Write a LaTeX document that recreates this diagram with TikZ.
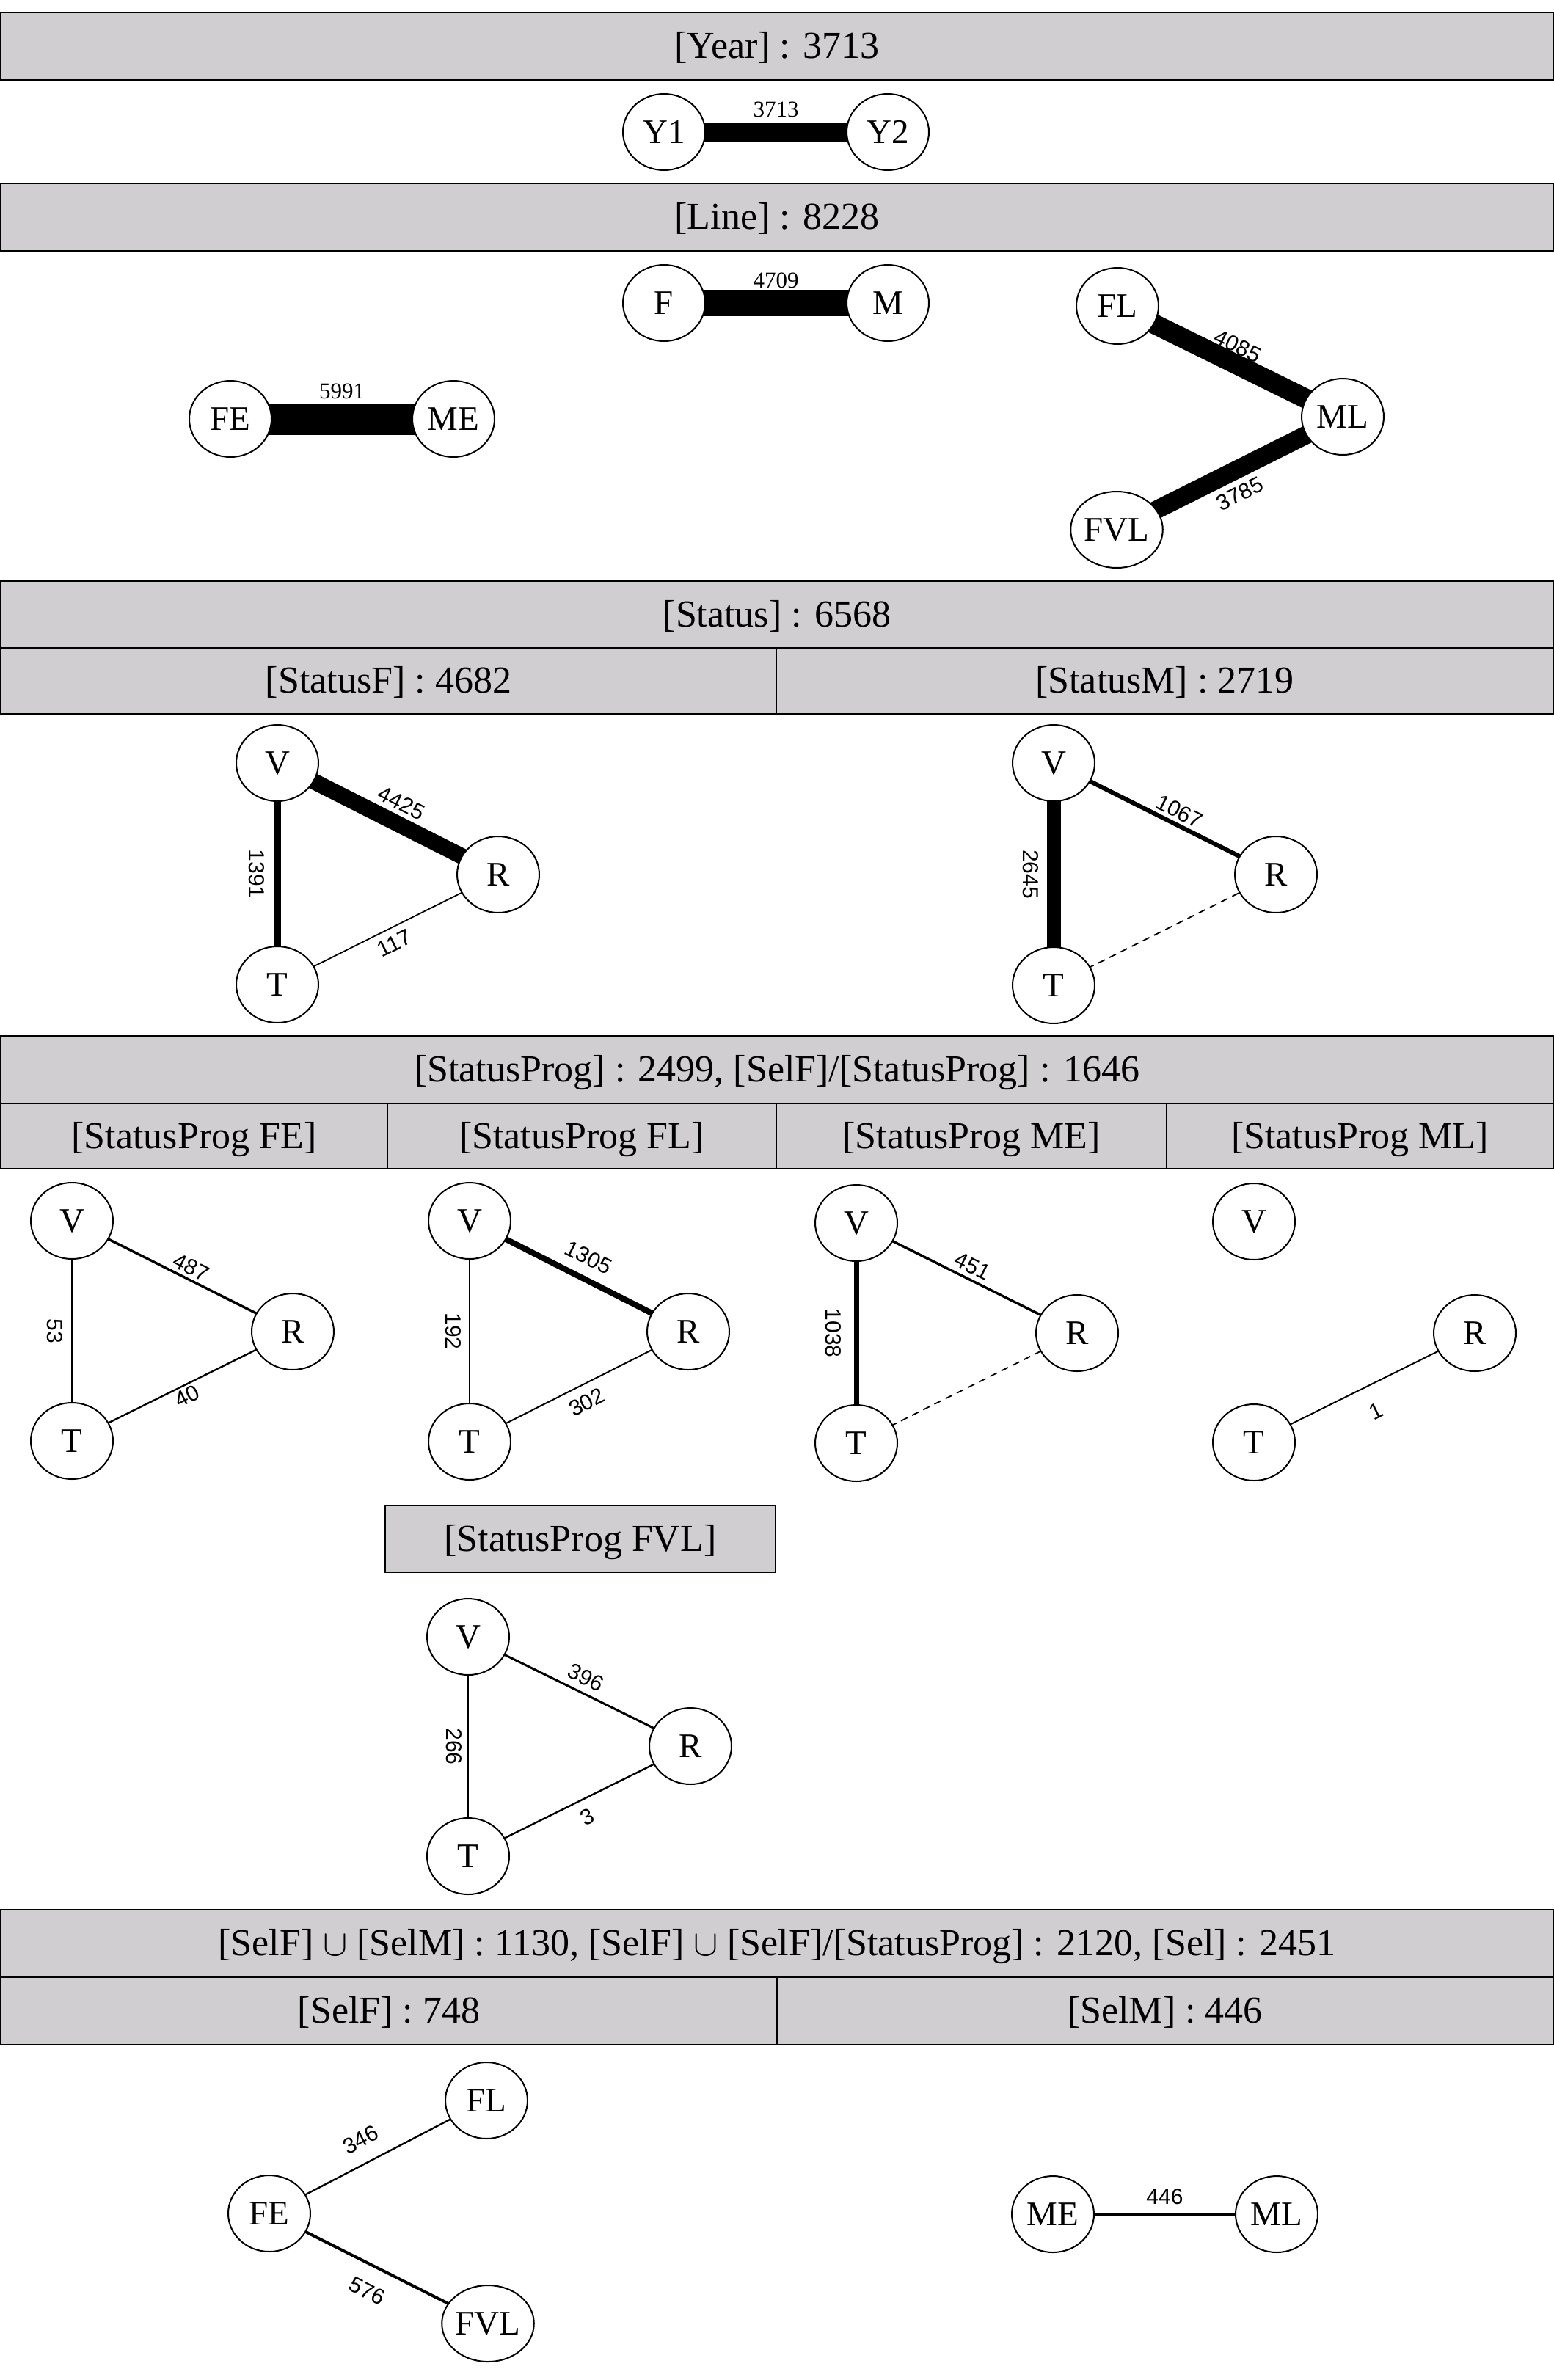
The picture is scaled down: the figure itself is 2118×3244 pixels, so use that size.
\documentclass[tikz,border=0pt]{standalone}
\usepackage{fontspec}
\setmainfont{Liberation Serif}
\newfontfamily\labsans{Liberation Sans}
\usetikzlibrary{shapes.geometric}
\definecolor{hdrgray}{RGB}{208,206,208}
\pgfdeclarelayer{edges}
\pgfsetlayers{edges,main}

\begin{document}
\begin{tikzpicture}[x=0.5pt, y=-0.5pt,
  hdr/.style={draw=black, line width=1.2pt, fill=hdrgray, inner sep=0pt,
    text height=21pt, text depth=4.5pt, font=\fontsize{26}{31}\selectfont},
  vtx/.style={ellipse, draw, line width=1pt, fill=white, inner sep=0pt,
    minimum width=56pt, minimum height=52pt, font=\fontsize{23.5}{28}\selectfont},
  lab/.style={font=\labsans\fontsize{15}{18}\selectfont, inner sep=0pt, outer sep=0pt},
  labs/.style={font=\fontsize{15.5}{18}\selectfont, inner sep=0pt, outer sep=0pt},
  wt/.style={line width=#1pt},
  dsh/.style={line width=0.9pt, dash pattern=on 5pt off 3.5pt},
]
\useasboundingbox (0,0) rectangle (2118,3244);

% ---------- header bars ----------
\node[hdr, minimum width=1058pt, minimum height=46pt] (hYear) at (1059,63) {[Year] : 3713};
\node[hdr, minimum width=1058pt, minimum height=46pt] (hLine) at (1059,296) {[Line] : 8228};
\node[hdr, minimum width=1058pt, minimum height=45.5pt] (hStatus) at (1059,837.5) {[Status] : 6568};
\node[hdr, minimum width=528.5pt, minimum height=45pt] (hStatusF) at (529.5,928) {[StatusF] : 4682};
\node[hdr, minimum width=529.5pt, minimum height=45pt] (hStatusM) at (1587.5,928) {[StatusM] : 2719};
\node[hdr, minimum width=1058pt, minimum height=46pt] (hProg) at (1059,1458) {[StatusProg] : 2499, [SelF]/[StatusProg] : 1646};
\node[hdr, minimum width=263.5pt, minimum height=44.5pt] (hProgFE) at (264.5,1548.5) {[StatusProg FE]};
\node[hdr, minimum width=265pt, minimum height=44.5pt] (hProgFL) at (793,1548.5) {[StatusProg FL]};
\node[hdr, minimum width=266pt, minimum height=44.5pt] (hProgME) at (1324,1548.5) {[StatusProg ME]};
\node[hdr, minimum width=263.5pt, minimum height=44.5pt] (hProgML) at (1853.5,1548.5) {[StatusProg ML]};
\node[hdr, minimum width=266pt, minimum height=45.5pt] (hProgFVL) at (791,2097.5) {[StatusProg FVL]};
\node[hdr, minimum width=1058pt, minimum height=46pt] (hSel) at (1059,2649) {[SelF] $\cup$ [SelM] : 1130, [SelF] $\cup$ [SelF]/[StatusProg] : 2120, [Sel] : 2451};
\node[hdr, minimum width=529pt, minimum height=46pt] (hSelF) at (530,2741) {[SelF] : 748};
\node[hdr, minimum width=529pt, minimum height=46pt] (hSelM) at (1588,2741) {[SelM] : 446};

% ---------- vertices ----------
\node[vtx] (yA) at (905,180) {Y1};
\node[vtx] (yB) at (1210,180) {Y2};

\node[vtx] (lF) at (905,413) {F};
\node[vtx] (lM) at (1210,413) {M};
\node[vtx] (lFE) at (314,571) {FE};
\node[vtx] (lME) at (618,571) {ME};
\node[vtx] (lFL) at (1523,417) {FL};
\node[vtx] (lML) at (1830,568) {ML};
\node[vtx] (lFVL) at (1522,722) {FVL};

\node[vtx] (sfV) at (378,1040) {V};
\node[vtx] (sfR) at (679,1192) {R};
\node[vtx] (sfT) at (378,1342) {T};

\node[vtx] (smV) at (1436,1040) {V};
\node[vtx] (smR) at (1739,1192) {R};
\node[vtx] (smT) at (1436,1343) {T};

\node[vtx] (peV) at (98,1664) {V};
\node[vtx] (peR) at (399,1815) {R};
\node[vtx] (peT) at (98,1964) {T};

\node[vtx] (plV) at (640,1664) {V};
\node[vtx] (plR) at (938,1815) {R};
\node[vtx] (plT) at (640,1965) {T};

\node[vtx] (pmV) at (1167,1667) {V};
\node[vtx] (pmR) at (1468,1817) {R};
\node[vtx] (pmT) at (1167,1967) {T};

\node[vtx] (pnV) at (1709,1665) {V};
\node[vtx] (pnR) at (2010,1817) {R};
\node[vtx] (pnT) at (1709,1966) {T};

\node[vtx] (pvV) at (638,2231) {V};
\node[vtx] (pvR) at (941,2380) {R};
\node[vtx] (pvT) at (638,2530) {T};

\node[vtx] (qFE) at (367,3017) {FE};
\node[vtx] (qFL) at (663,2863) {FL};
\node[vtx] (qFVL) at (665,3167) {FVL};
\node[vtx] (qME) at (1435,3018) {ME};
\node[vtx] (qML) at (1740,3018) {ML};

% ---------- weighted edges (under the vertices) ----------
\begin{pgfonlayer}{edges}
\draw[wt=13.5] (yA.center) -- node[labs, midway, above=10pt] {3713} (yB.center);

\draw[wt=18] (lF.center) -- node[labs, midway, above=10pt] {4709} (lM.center);
\draw[wt=21.5] (lFE.center) -- node[labs, midway, above=13.5pt] {5991} (lME.center);
\draw[wt=13.5] (lFL.center) -- node[lab, midway, sloped, above=6.3pt] {4085} (lML.center);
\draw[wt=12.5] (lFVL.center) -- node[lab, midway, sloped, below=10.4pt] {3785} (lML.center);

\draw[wt=11] (sfV.center) -- node[lab, pos=0.52, sloped, above=8.5pt] {4425} (sfR.center);
\draw[wt=5] (sfV.center) -- node[lab, midway, sloped, below=9pt] {1391} (sfT.center);
\draw[wt=0.9] (sfT.center) -- node[lab, midway, sloped, below=5.2pt] {117} (sfR.center);

\draw[wt=3] (smV.center) -- node[lab, pos=0.54, sloped, above=3.6pt] {1067} (smR.center);
\draw[wt=9.5] (smV.center) -- node[lab, midway, sloped, below=10.5pt] {2645} (smT.center);
\draw[dsh] (smT.center) -- (smR.center);

\draw[wt=1.7] (peV.center) -- node[lab, pos=0.515, sloped, above=2.7pt] {487} (peR.center);
\draw[wt=1] (peV.center) -- node[lab, midway, sloped, below=6.3pt] {53} (peT.center);
\draw[wt=1.2] (peT.center) -- node[lab, midway, sloped, below=2.2pt] {40} (peR.center);

\draw[wt=4] (plV.center) -- node[lab, midway, sloped, above=8.9pt] {1305} (plR.center);
\draw[wt=0.8] (plV.center) -- node[lab, midway, sloped, below=5.7pt] {192} (plT.center);
\draw[wt=1] (plT.center) -- node[lab, midway, sloped, below=6.7pt] {302} (plR.center);

\draw[wt=1.7] (pmV.center) -- node[lab, midway, sloped, above=3.9pt] {451} (pmR.center);
\draw[wt=3.5] (pmV.center) -- node[lab, midway, sloped, below=10.2pt] {1038} (pmT.center);
\draw[dsh] (pmT.center) -- (pmR.center);

\draw[wt=1] (pnT.center) -- node[lab, midway, sloped, below=12.9pt] {1} (pnR.center);

\draw[wt=1.5] (pvV.center) -- node[lab, midway, sloped, above=5.2pt] {396} (pvR.center);
\draw[wt=0.7] (pvV.center) -- node[lab, midway, sloped, below=4.5pt] {266} (pvT.center);
\draw[wt=1.2] (pvT.center) -- node[lab, midway, sloped, below=6.5pt] {3} (pvR.center);

\draw[wt=1.2] (qFE.center) -- node[lab, pos=0.47, sloped, above=10.5pt] {346} (qFL.center);
\draw[wt=2] (qFE.center) -- node[lab, midway, sloped, below=12pt] {576} (qFVL.center);
\draw[wt=1.5] (qME.center) -- node[lab, midway, above=6.5pt] {446} (qML.center);
\end{pgfonlayer}
\end{tikzpicture}
\end{document}
